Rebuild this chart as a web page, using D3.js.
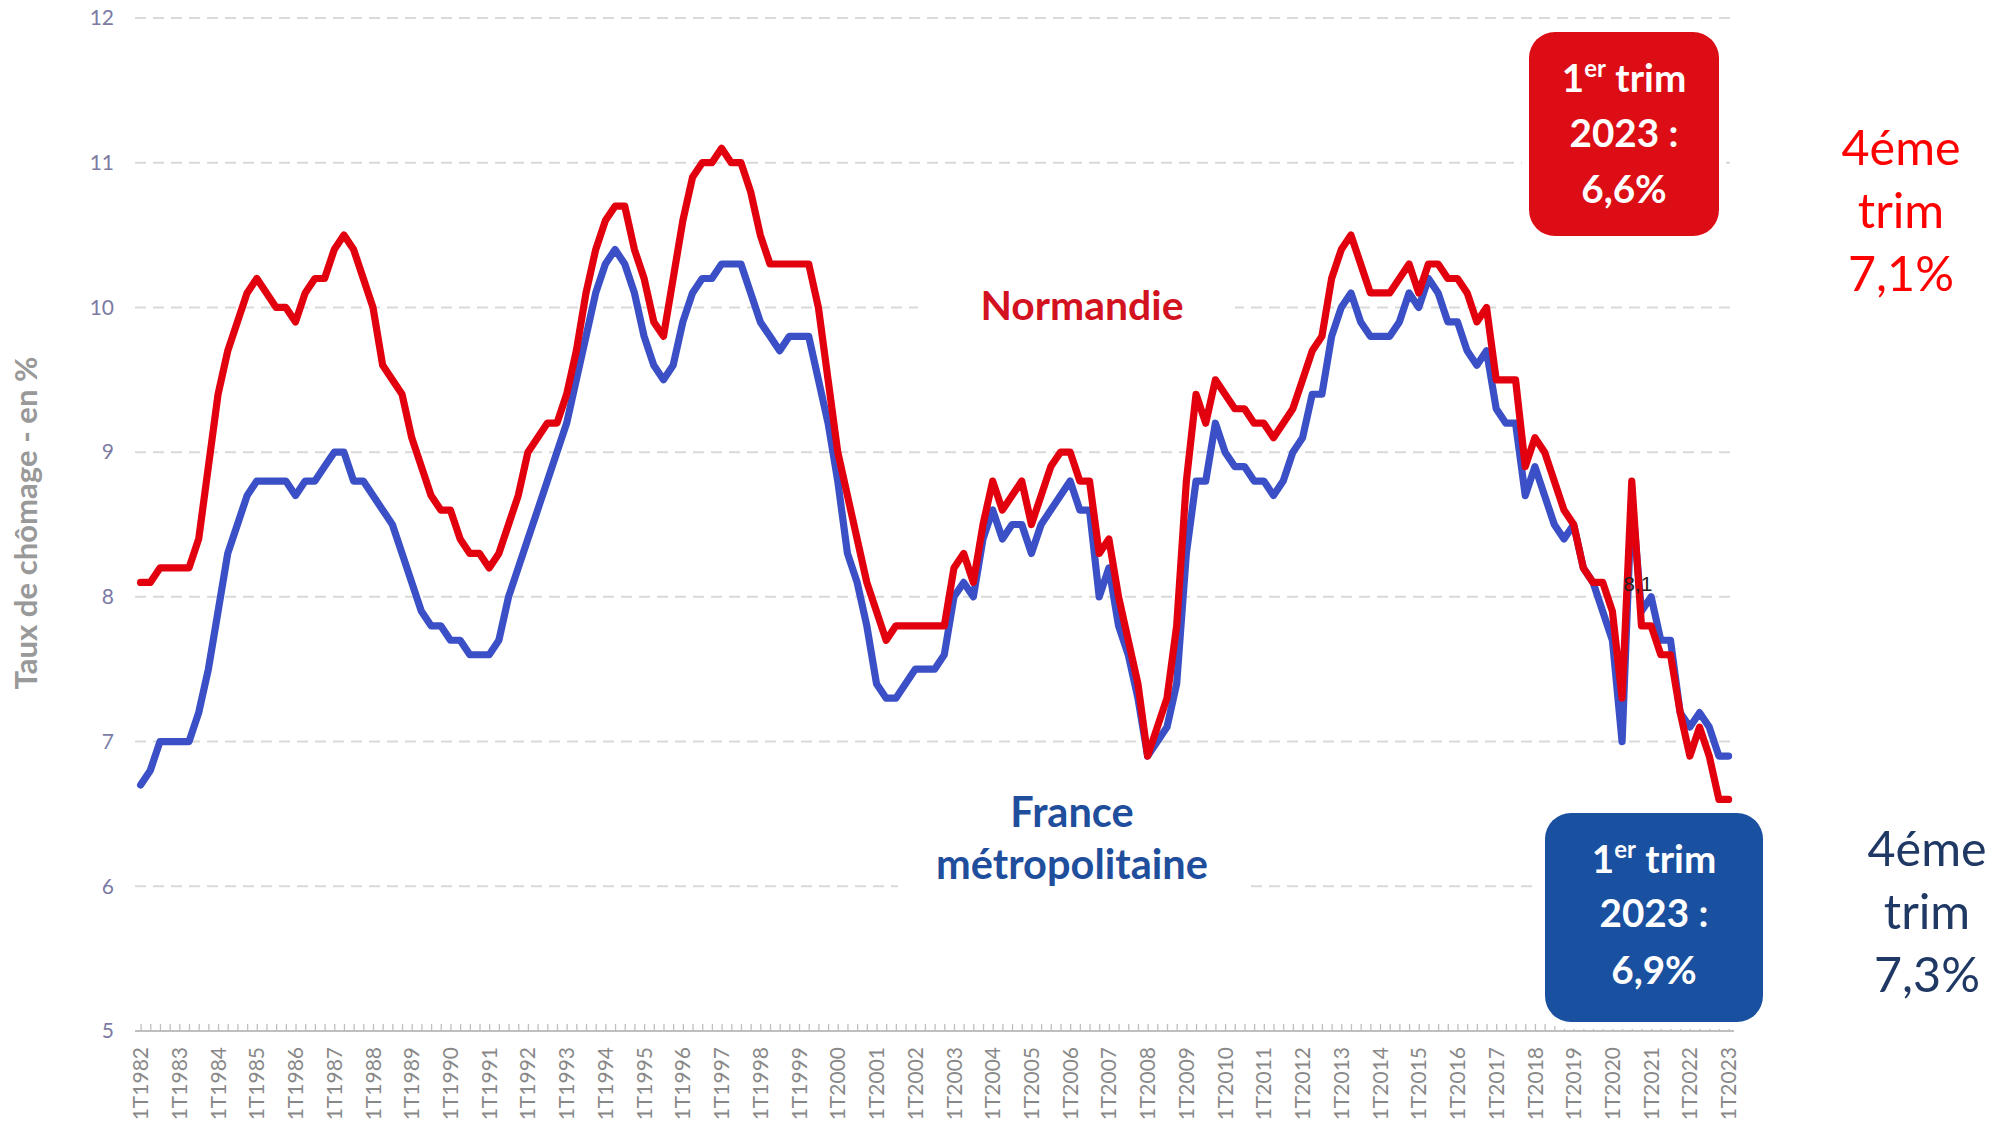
<!DOCTYPE html>
<html><head><meta charset="utf-8">
<script src="https://cdn.jsdelivr.net/npm/d3@7"></script>
<style>
html,body{margin:0;padding:0;background:#fff;}
svg{display:block;}
</style></head>
<body>
<svg id="chart" width="2011" height="1121"></svg>
<script>
// ---------- DATA ----------
const years = d3.range(1982, 2024);
const quarters = [1, 2, 3, 4];
const categories = [];
years.forEach(y => quarters.forEach(q => { if (y < 2023 || q === 1) categories.push(q + "T" + y); }));

const normandie = [
  8.1, 8.1, 8.2, 8.2, 8.2, 8.2, 8.4, 8.9, 9.4, 9.7,
  9.9, 10.1, 10.2, 10.1, 10.0, 10.0, 9.9, 10.1, 10.2, 10.2,
  10.4, 10.5, 10.4, 10.2, 10.0, 9.6, 9.5, 9.4, 9.1, 8.9,
  8.7, 8.6, 8.6, 8.4, 8.3, 8.3, 8.2, 8.3, 8.5, 8.7,
  9.0, 9.1, 9.2, 9.2, 9.4, 9.7, 10.1, 10.4, 10.6, 10.7,
  10.7, 10.4, 10.2, 9.9, 9.8, 10.2, 10.6, 10.9, 11.0, 11.0,
  11.1, 11.0, 11.0, 10.8, 10.5, 10.3, 10.3, 10.3, 10.3, 10.3,
  10.0, 9.5, 9.0, 8.7, 8.4, 8.1, 7.9, 7.7, 7.8, 7.8,
  7.8, 7.8, 7.8, 7.8, 8.2, 8.3, 8.1, 8.5, 8.8, 8.6,
  8.7, 8.8, 8.5, 8.7, 8.9, 9.0, 9.0, 8.8, 8.8, 8.3,
  8.4, 8.0, 7.7, 7.4, 6.9, 7.1, 7.3, 7.8, 8.8, 9.4,
  9.2, 9.5, 9.4, 9.3, 9.3, 9.2, 9.2, 9.1, 9.2, 9.3,
  9.5, 9.7, 9.8, 10.2, 10.4, 10.5, 10.3, 10.1, 10.1, 10.1,
  10.2, 10.3, 10.1, 10.3, 10.3, 10.2, 10.2, 10.1, 9.9, 10.0,
  9.5, 9.5, 9.5, 8.9, 9.1, 9.0, 8.8, 8.6, 8.5, 8.2,
  8.1, 8.1, 7.9, 7.3, 8.8, 7.8, 7.8, 7.6, 7.6, 7.2,
  6.9, 7.1, 6.9, 6.6, 6.6
];

const franceMetro = [
  6.7, 6.8, 7.0, 7.0, 7.0, 7.0, 7.2, 7.5, 7.9, 8.3,
  8.5, 8.7, 8.8, 8.8, 8.8, 8.8, 8.7, 8.8, 8.8, 8.9,
  9.0, 9.0, 8.8, 8.8, 8.7, 8.6, 8.5, 8.3, 8.1, 7.9,
  7.8, 7.8, 7.7, 7.7, 7.6, 7.6, 7.6, 7.7, 8.0, 8.2,
  8.4, 8.6, 8.8, 9.0, 9.2, 9.5, 9.8, 10.1, 10.3, 10.4,
  10.3, 10.1, 9.8, 9.6, 9.5, 9.6, 9.9, 10.1, 10.2, 10.2,
  10.3, 10.3, 10.3, 10.1, 9.9, 9.8, 9.7, 9.8, 9.8, 9.8,
  9.5, 9.2, 8.8, 8.3, 8.1, 7.8, 7.4, 7.3, 7.3, 7.4,
  7.5, 7.5, 7.5, 7.6, 8.0, 8.1, 8.0, 8.4, 8.6, 8.4,
  8.5, 8.5, 8.3, 8.5, 8.6, 8.7, 8.8, 8.6, 8.6, 8.0,
  8.2, 7.8, 7.6, 7.3, 6.9, 7.0, 7.1, 7.4, 8.3, 8.8,
  8.8, 9.2, 9.0, 8.9, 8.9, 8.8, 8.8, 8.7, 8.8, 9.0,
  9.1, 9.4, 9.4, 9.8, 10.0, 10.1, 9.9, 9.8, 9.8, 9.8,
  9.9, 10.1, 10.0, 10.2, 10.1, 9.9, 9.9, 9.7, 9.6, 9.7,
  9.3, 9.2, 9.2, 8.7, 8.9, 8.7, 8.5, 8.4, 8.5, 8.2,
  8.1, 7.9, 7.7, 7.0, 8.7, 7.9, 8.0, 7.7, 7.7, 7.2,
  7.1, 7.2, 7.1, 6.9, 6.9
];

const yTicks = [5, 6, 7, 8, 9, 10, 11, 12];
const xTickLabels = categories.filter(c => c.startsWith("1T"));
const dataLabel = { category: "3T2020", value: 8.1, text: "8,1" };

const yTitle = "Taux de chômage - en %";
const seriesLabels = { normandie: "Normandie", france: ["France", "métropolitaine"] };
const boxNormandie = ["1", "er", " trim", "2023 :", "6,6%"];
const boxFrance = ["1", "er", " trim", "2023 :", "6,9%"];
const noteNormandie = ["4éme", "trim", "7,1%"];
const noteFrance = ["4éme", "trim", "7,3%"];

// ---------- CHART ----------
const svg = d3.select("#chart");
const FONT = "Lato, 'Open Sans', sans-serif";
const x = d3.scalePoint().domain(categories).range([140.6, 1728.6]);
const y = d3.scaleLinear().domain([5, 12]).range([1031, 18]);
const gridX0 = 135, gridX1 = 1734;

function fit(sel, target) {
  const w = sel.node().getComputedTextLength();
  const fs = parseFloat(sel.attr("font-size"));
  sel.attr("font-size", (fs * target / w).toFixed(2));
}

// gridlines
svg.append("g").selectAll("line").data(yTicks.filter(t => t > 5)).join("line")
  .attr("x1", gridX0).attr("x2", gridX1)
  .attr("y1", d => y(d)).attr("y2", d => y(d))
  .attr("stroke", "#d9d9d9").attr("stroke-width", 2).attr("stroke-dasharray", "11,7");

// y tick labels
svg.append("g").selectAll("text").data(yTicks).join("text")
  .attr("x", 114).attr("y", d => y(d)).attr("dy", "0.35em")
  .attr("text-anchor", "end").attr("font-family", FONT).attr("font-size", 21)
  .attr("fill", "#7b7ba3").text(d => d);

// x axis
const xAxis = d3.axisBottom(x).tickSize(-7).tickFormat("");
const gx = svg.append("g").attr("transform", "translate(0,1031)").call(xAxis);
gx.select(".domain").attr("d", `M${gridX0},0H${gridX1}`).attr("stroke", "#bfbfbf").attr("stroke-width", 2);
gx.selectAll(".tick line").attr("stroke", "#bfbfbf").attr("stroke-width", 1.3);

svg.append("g").selectAll("text").data(xTickLabels).join("text")
  .attr("transform", d => `translate(${x(d)},1047) rotate(-90)`)
  .attr("text-anchor", "end").attr("dy", "0.36em")
  .attr("font-family", FONT).attr("font-size", 21).attr("fill", "#888")
  .text(d => d);

// y title
const ttl = svg.append("text")
  .attr("transform", "translate(37,523) rotate(-90)")
  .attr("text-anchor", "middle").attr("font-family", FONT).attr("font-weight", 700)
  .attr("font-size", 28).attr("fill", "#999").text(yTitle);
fit(ttl, 333);

// series label backgrounds
svg.append("rect").attr("x", 918).attr("y", 278).attr("width", 317).attr("height", 60).attr("fill", "#fff");
svg.append("rect").attr("x", 898).attr("y", 788).attr("width", 348).attr("height", 110).attr("fill", "#fff");

const nl = svg.append("text").attr("x", 1082).attr("y", 320).attr("text-anchor", "middle")
  .attr("font-family", FONT).attr("font-weight", 700).attr("font-size", 38)
  .attr("fill", "#d3121f").text(seriesLabels.normandie);
fit(nl, 203);

const fl2 = svg.append("text").attr("x", 1072).attr("y", 879).attr("text-anchor", "middle")
  .attr("font-family", FONT).attr("font-weight", 700).attr("font-size", 38)
  .attr("fill", "#1f4e9c").text(seriesLabels.france[1]);
fit(fl2, 272);
svg.append("text").attr("x", 1072).attr("y", 827).attr("text-anchor", "middle")
  .attr("font-family", FONT).attr("font-weight", 700).attr("font-size", fl2.attr("font-size"))
  .attr("fill", "#1f4e9c").text(seriesLabels.france[0]);

// lines
const line = d3.line().x((d, i) => x(categories[i])).y(d => y(d));
svg.append("path").datum(franceMetro).attr("d", line).attr("fill", "none")
  .attr("stroke", "#3b50c6").attr("stroke-width", 7.2)
  .attr("stroke-linejoin", "round").attr("stroke-linecap", "round");
svg.append("path").datum(normandie).attr("d", line).attr("fill", "none")
  .attr("stroke", "#e2000f").attr("stroke-width", 7.2)
  .attr("stroke-linejoin", "round").attr("stroke-linecap", "round");

// data label
svg.append("text").attr("x", x(dataLabel.category) + 6).attr("y", y(dataLabel.value) + 9)
  .attr("text-anchor", "middle").attr("font-family", "'Liberation Sans', Arial, sans-serif")
  .attr("font-size", 21).attr("fill", "#222").text(dataLabel.text);

// boxes
function box(x0, y0, w, h, color, lines, cx, baselines) {
  svg.append("rect").attr("x", x0 - 7).attr("y", y0 - 7).attr("width", w + 14).attr("height", h + 14)
    .attr("rx", 30).attr("fill", "#fff");
  svg.append("rect").attr("x", x0).attr("y", y0).attr("width", w).attr("height", h)
    .attr("rx", 26).attr("fill", color);
  const mk = (yy) => svg.append("text").attr("x", cx).attr("y", yy).attr("text-anchor", "middle")
    .attr("font-family", FONT).attr("font-weight", 700).attr("font-size", 37).attr("fill", "#fff");
  const t2 = mk(baselines[1]).text(lines[3]);
  fit(t2, 109);
  const fs = t2.attr("font-size");
  const t1 = mk(baselines[0]).attr("font-size", fs);
  t1.append("tspan").text(lines[0]);
  t1.append("tspan").attr("font-size", fs * 0.62).attr("dy", -fs * 0.38).text(lines[1]);
  t1.append("tspan").attr("dy", fs * 0.38).text(lines[2]);
  mk(baselines[2]).attr("font-size", fs).text(lines[4]);
}
box(1529, 32, 190, 204, "#dc0d15", boxNormandie, 1624, [92, 147, 203]);
box(1545, 813, 218, 209, "#1a50a0", boxFrance, 1654, [873, 927, 984]);

// notes on the right
function note(cx, baselines, color, lines) {
  const t0 = svg.append("text").attr("x", cx).attr("y", baselines[0]).attr("text-anchor", "middle")
    .attr("font-family", FONT).attr("font-size", 46).attr("fill", color).text(lines[0]);
  fit(t0, 119);
  const fs = t0.attr("font-size");
  lines.slice(1).forEach((l, i) => svg.append("text").attr("x", cx).attr("y", baselines[i + 1])
    .attr("text-anchor", "middle").attr("font-family", FONT).attr("font-size", fs)
    .attr("fill", color).text(l));
}
note(1901, [165, 228, 291], "#ff0000", noteNormandie);
note(1927, [866, 929, 992], "#1f3864", noteFrance);
</script>
</body></html>
